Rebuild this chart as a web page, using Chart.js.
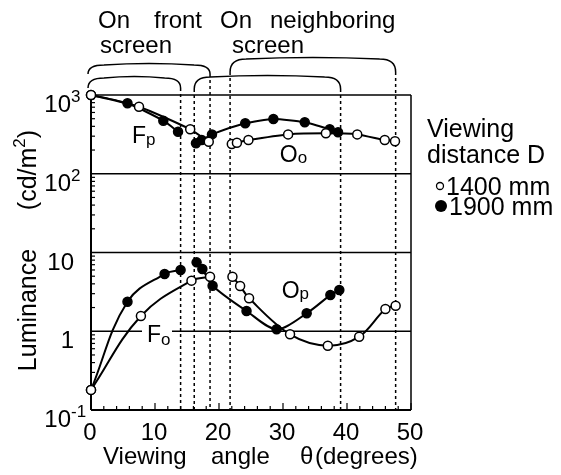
<!DOCTYPE html>
<html>
<head>
<meta charset="utf-8">
<script src="https://cdn.jsdelivr.net/npm/chart.js@4"></script>
<style>
  html, body { margin: 0; padding: 0; background: #fff; }
  canvas { display: block; }
</style>
</head>
<body>
<canvas id="luminance" width="561" height="475"></canvas>
<script>
// viewing angle (degrees) / luminance (cd/m2)
// F = front screen, O = neighboring screen; 1400 mm = open, 1900 mm = filled
const FP_1900_ANGLE = [0, 5.7, 11.3, 13.6];
const FP_1900_LUM = [1000, 785, 472, 342];
const FP_1400_ANGLE = [0, 7.5, 15.5, 18.4];
const FP_1400_LUM = [1000, 710, 367, 255];
const OO_1900_ANGLE = [16.4, 17.3, 18.9, 24.1, 28.5, 33.4, 37.3, 38.6];
const OO_1900_LUM = [244, 268, 316, 437, 496, 450, 367, 336];
const OO_1400_ANGLE = [22.0, 22.8, 24.6, 30.8, 36.7, 41.6, 45.9, 47.5];
const OO_1400_LUM = [239, 248, 268, 316, 326, 316, 268, 259];

const FO_1900_ANGLE = [0, 5.7, 11.5, 14.0];
const FO_1900_LUM = [0.18, 2.37, 5.33, 6.0];
const FO_1400_ANGLE = [0, 7.8, 15.7, 18.6];
const FO_1400_LUM = [0.18, 1.56, 4.39, 4.93];
const OP_1900_ANGLE = [16.5, 17.4, 19.0, 24.3, 29.0, 33.7, 37.4, 38.8];
const OP_1900_LUM = [7.5, 6.17, 3.79, 1.81, 1.06, 1.69, 2.88, 3.34];
const OP_1400_ANGLE = [22.1, 23.3, 24.7, 31.1, 37.0, 41.9, 46.0, 47.6];
const OP_1400_LUM = [4.93, 3.76, 2.62, 0.914, 0.656, 0.853, 1.92, 2.11];

// angle ranges seen on each screen
const FRONT_1400 = [0, 18.6];
const FRONT_1900 = [0, 14.0];
const NEIGHBOR_1900 = [16.6, 39.0];
const NEIGHBOR_1400 = [22.2, 47.6];

const X_TICKS = [0, 10, 20, 30, 40, 50];
const Y_TICKS = [0.1, 1, 10, 100, 1000];
const Y_TICK_BASE = ["10", "1", "10", "10", "10"];
const Y_TICK_SUP = ["-1", "", "", "2", "3"];

const FONT = "'Liberation Sans', Arial, sans-serif";

function pts(xs, ys) {
    return xs.map((x, i) => ({ x: x, y: ys[i] }));
}

function series(xs, ys, open, tension) {
    return {
        data: pts(xs, ys),
        showLine: true,
        borderColor: "#000",
        borderWidth: 2,
        tension: tension,
        pointRadius: 4.5,
        pointBorderWidth: 1.5,
        pointBorderColor: "#000",
        pointBackgroundColor: open ? "#fff" : "#000",
        order: open ? 0 : 1,
        clip: false
    };
}

// draws runs of text side by side: [text, size, dy]
function runs(ctx, parts, x, y, align) {
    let w = 0;
    parts.forEach(p => { ctx.font = p[1] + "px " + FONT; w += ctx.measureText(p[0]).width; });
    let cx = align === "center" ? x - w / 2 : align === "right" ? x - w : x;
    ctx.textAlign = "left";
    ctx.textBaseline = "alphabetic";
    parts.forEach(p => {
        ctx.font = p[1] + "px " + FONT;
        ctx.fillText(p[0], cx, y + (p[2] || 0));
        cx += ctx.measureText(p[0]).width;
    });
    return w;
}

function line(ctx, x0, y0, x1, y1) {
    ctx.beginPath();
    ctx.moveTo(x0, y0);
    ctx.lineTo(x1, y1);
    ctx.stroke();
}

const framePlugin = {
    id: "frame",
    beforeDatasetsDraw(chart) {
        const ctx = chart.ctx, a = chart.chartArea;
        const xs = chart.scales.x, ys = chart.scales.y;
        ctx.save();
        ctx.strokeStyle = "#000";
        ctx.fillStyle = "#000";

        // frame + decade grid
        ctx.lineWidth = 2;
        line(ctx, a.left, a.top, a.left, a.bottom);
        line(ctx, a.left, a.bottom, a.right, a.bottom);
        ctx.lineWidth = 1.5;
        line(ctx, a.left, a.top, a.right, a.top);
        line(ctx, a.right, a.top, a.right, a.bottom);
        [1, 10, 100].forEach(v => {
            const y = ys.getPixelForValue(v);
            line(ctx, a.left, y, a.right, y);
        });

        // minor log ticks on the y axis
        ctx.lineWidth = 1.2;
        for (let e = -1; e < 3; e++) {
            for (let k = 2; k <= 9; k++) {
                const y = ys.getPixelForValue(k * Math.pow(10, e));
                line(ctx, a.left, y, a.left + 4, y);
            }
        }
        // x ticks every 2 degrees
        for (let v = 0; v <= 50; v += 2) {
            const x = xs.getPixelForValue(v);
            line(ctx, x, a.bottom, x, a.bottom - (v % 10 === 0 ? 7 : 4));
        }

        // brackets over the plot + dashed limits
        const brackets = [
            { r: FRONT_1400, top: 65, foot: 74 },
            { r: FRONT_1900, top: 78, foot: 88 },
            { r: NEIGHBOR_1900, top: 77, foot: 89 },
            { r: NEIGHBOR_1400, top: 59, foot: 72 }
        ];
        brackets.forEach(b => {
            const x0 = xs.getPixelForValue(b.r[0]) - 3;
            const x1 = xs.getPixelForValue(b.r[1]);
            ctx.lineWidth = 1.5;
            ctx.setLineDash([]);
            ctx.beginPath();
            ctx.moveTo(x0, b.foot);
            ctx.quadraticCurveTo(x0, b.top, x0 + 16, b.top);
            ctx.quadraticCurveTo((x0 + x1) / 2, b.top - 3, x1 - 16, b.top);
            ctx.quadraticCurveTo(x1, b.top, x1, b.foot);
            ctx.stroke();
            ctx.setLineDash([3, 3]);
            b.r.forEach((v, i) => {
                if (v === 0) return;
                const x = i === 0 ? x0 : x1;
                line(ctx, x, b.foot, x, a.bottom);
            });
        });
        ctx.setLineDash([]);
        ctx.restore();
    },
    afterDatasetsDraw(chart) {
        const ctx = chart.ctx, a = chart.chartArea;
        const xs = chart.scales.x, ys = chart.scales.y;
        ctx.save();
        ctx.fillStyle = "#000";

        // tick labels
        Y_TICKS.forEach((v, i) => {
            const y = ys.getPixelForValue(v);
            ctx.font = "24px " + FONT;
            const bw = ctx.measureText(Y_TICK_BASE[i]).width;
            const x0 = (Y_TICK_SUP[i] ? 71 : 74) - bw;
            runs(ctx, [[Y_TICK_BASE[i], 24], [Y_TICK_SUP[i], 17, -10]], x0, y + 17, "left");
        });
        X_TICKS.forEach(v => {
            runs(ctx, [[String(v), 24]], xs.getPixelForValue(v) - 1, a.bottom + 30, "center");
        });

        // axis titles
        runs(ctx, [["Viewing", 24]], 103, 464, "left");
        runs(ctx, [["angle", 24]], 211, 464, "left");
        runs(ctx, [["\u03b8", 24]], 300, 464, "left");
        runs(ctx, [["(degrees)", 24]], 315, 464, "left");
        ctx.save();
        ctx.translate(36, 310);
        ctx.rotate(-Math.PI / 2);
        runs(ctx, [["Luminance", 25]], 0, 0, "center");
        ctx.restore();
        ctx.save();
        ctx.translate(36, 170);
        ctx.rotate(-Math.PI / 2);
        runs(ctx, [["(cd/m", 25], ["2", 17, -11], [")", 25]], 0, 0, "center");
        ctx.restore();

        // screen headings
        runs(ctx, [["On", 24]], 98, 28, "left");
        runs(ctx, [["front", 24]], 154, 28, "left");
        runs(ctx, [["screen", 24]], 100, 53, "left");
        runs(ctx, [["On", 24]], 220, 28, "left");
        runs(ctx, [["neighboring", 24]], 270, 28, "left");
        runs(ctx, [["screen", 24]], 232, 53, "left");

        // curve names
        const names = [
            { m: "F", s: "p", x: 6.4, y: 246, dy: 2 },
            { m: "O", s: "o", x: 29.5, y: 141, dy: 1 },
            { m: "O", s: "p", x: 29.8, y: 2.64, dy: 1 },
            { m: "F", s: "o", x: 8.75, y: 0.73, dy: 3, knock: true }
        ];
        names.forEach(n => {
            const x = xs.getPixelForValue(n.x), y = ys.getPixelForValue(n.y);
            if (n.knock) {
                ctx.fillStyle = "#fff";
                ctx.fillRect(x - 5, y - 18, 30, 22);
                ctx.fillStyle = "#000";
            }
            runs(ctx, [[n.m, 23], [n.s, 17, n.dy]], x, y, "left");
        });

        // legend
        runs(ctx, [["Viewing", 25]], 427, 137, "left");
        runs(ctx, [["distance D", 25]], 427, 163, "left");
        ctx.lineWidth = 1.3;
        ctx.strokeStyle = "#000";
        ctx.beginPath();
        ctx.arc(440, 186, 3.5, 0, Math.PI * 2);
        ctx.stroke();
        runs(ctx, [["1400 mm", 25]], 446, 195, "left");
        ctx.beginPath();
        ctx.arc(441, 206, 6, 0, Math.PI * 2);
        ctx.fill();
        runs(ctx, [["1900 mm", 25]], 449, 215, "left");
        ctx.restore();
    }
};

new Chart(document.getElementById("luminance"), {
    type: "scatter",
    data: {
        datasets: [
            series(FP_1400_ANGLE, FP_1400_LUM, true, 0.2),
            series(OO_1400_ANGLE, OO_1400_LUM, true, 0.2),
            series(FO_1400_ANGLE, FO_1400_LUM, true, 0.4),
            series(OP_1400_ANGLE, OP_1400_LUM, true, 0.35),
            series(FP_1900_ANGLE, FP_1900_LUM, false, 0.2),
            series(OO_1900_ANGLE, OO_1900_LUM, false, 0.2),
            series(FO_1900_ANGLE, FO_1900_LUM, false, 0.4),
            series(OP_1900_ANGLE, OP_1900_LUM, false, 0.3)
        ]
    },
    options: {
        responsive: false,
        animation: false,
        devicePixelRatio: 1,
        layout: { padding: { left: 91, top: 95, right: 150, bottom: 65 } },
        scales: {
            x: { type: "linear", min: 0, max: 50, display: false },
            y: { type: "logarithmic", min: 0.1, max: 1000, display: false }
        },
        plugins: {
            legend: { display: false },
            tooltip: { enabled: false }
        }
    },
    plugins: [framePlugin]
});
</script>
</body>
</html>
